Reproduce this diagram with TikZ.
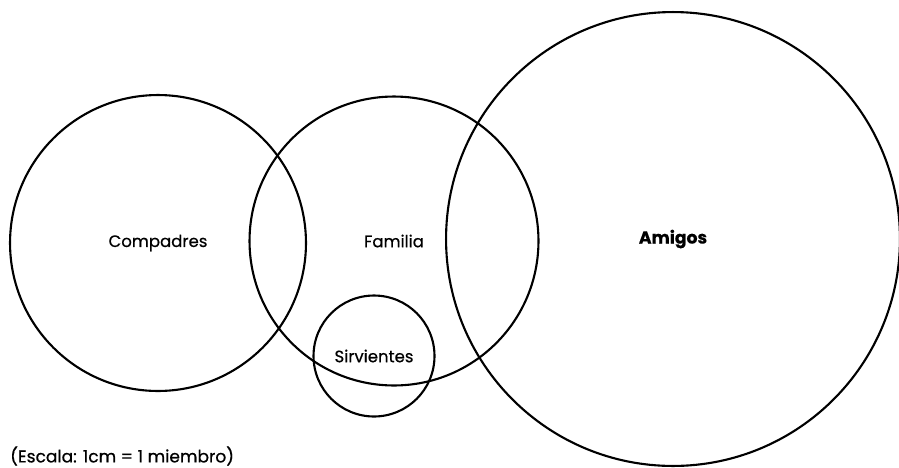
\documentclass[tikz,border=0pt]{standalone}
\usepackage{fontspec}
\setmainfont{Poppins}[FakeBold=0.6]
\usepackage{tikz}
\usetikzlibrary{positioning}
\tikzset{
  grupo/.style={circle, draw=black, line width=1.2pt, inner sep=0pt,
    outer sep=0pt, font=\fontsize{9.4}{11}\selectfont},
  escala/.style={anchor=west, font=\fontsize{9.7}{11}\selectfont}
}
\begin{document}
\begin{tikzpicture}[x=0.02cm, y=-0.02cm]
  \useasboundingbox (0,0) rectangle (899,467);

  % Circulos de relaciones
  \node[grupo, minimum size=5.92cm] (compadres) at (158,243) {Compadres};
  \node[grupo, minimum size=5.78cm] (familia) at (394,241) {Familia};
  \node[grupo, minimum size=9.08cm, font=\fontsize{9.8}{11}\selectfont\bfseries] (amigos) at (673,239) {Amigos};
  \node[grupo, minimum size=2.42cm] (sirvientes) at (374,356) {Sirvientes};

  % Escala
  \node[escala] (nota) at (4,456) {(Escala: 1cm = 1 miembro)};
\end{tikzpicture}
\end{document}
